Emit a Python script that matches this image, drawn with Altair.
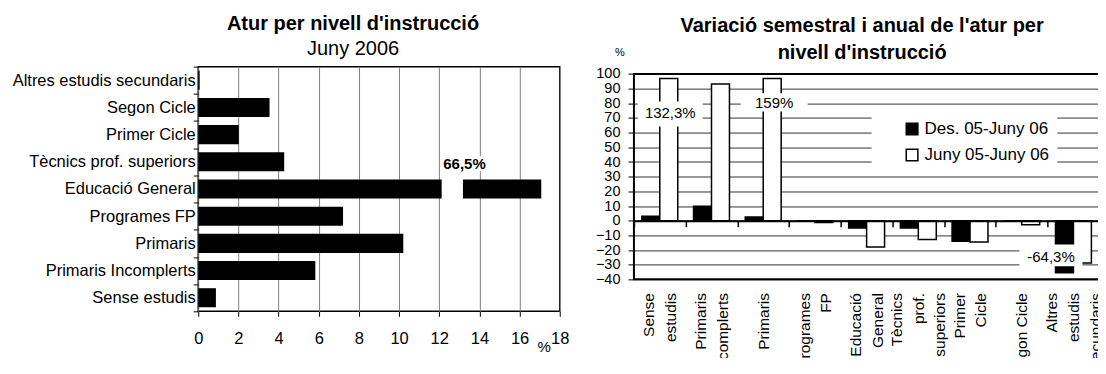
import altair as alt
import pandas as pd

# ---------------- left chart data ----------------
left_categories = ["Altres estudis secundaris", "Segon Cicle", "Primer Cicle",
                   "Tècnics prof. superiors", "Educació General", "Programes FP",
                   "Primaris", "Primaris Incomplerts", "Sense estudis"]
left_values = [0.07, 3.55, 2.02, 4.28, 17.08, 7.21, 10.21, 5.83, 0.88]
left_ticks = [0, 2, 4, 6, 8, 10, 12, 14, 16, 18]
left_break_category = ["Educació General"]
left_break_start = [12.12]
left_break_end = [13.18]
left_note_text = ["66,5%"]
left_note_category = ["Tècnics prof. superiors"]
left_note_start = [12.15]
left_note_end = [14.6]

# ---------------- right chart data ----------------
right_categories = ["Sense|estudis", "Primaris|Incomplerts", "Primaris", "Programes|FP",
                    "Educació|General", "Tècnics|prof.|superiors", "Primer|Cicle",
                    "Segon Cicle", "Altres|estudis|secundaris"]
series_names = ["Des. 05-Juny 06", "Juny 05-Juny 06"]
des_values = [3.0, 9.8, 2.5, 0.0, -5.0, -5.0, -14.0, 0.0, -35.5]
juny_values = [97.0, 93.2, 97.0, -1.3, -18.0, -12.9, -14.5, -2.7, -28.8]
right_ticks = [-40, -30, -20, -10, 0, 10, 20, 30, 40, 50, 60, 70, 80, 90, 100]
right_frame = [100, -40]
note_texts = ["132,3%", "159%", "-64,3%"]
note_categories = ["Sense|estudis", "Primaris", "Altres|estudis|secundaris"]
note_text_y = [73.2, 80.0, -24.7]
note_box_low = [64.2, 74.4, -31.0]
note_box_high = [81.2, 86.8, -16.3]

FONT = "Liberation Sans"

# ================= LEFT =================
df_l = pd.DataFrame({"cat": left_categories, "value": left_values})
y_l = alt.Scale(domain=left_categories, paddingInner=0, paddingOuter=0)
x_l = alt.Scale(domain=[0, 18], nice=False)
ax_x_l = alt.Axis(
    values=left_ticks, grid=True, gridColor="#808080", gridWidth=1,
    domain=False, tickSize=5, tickColor="black", tickWidth=1,
    labelFontSize=16.5, labelPadding=14.4, labelColor="black",
    labelFlush=False, labelOverlap=False,
    title="%", titleX=346, titleY=35, titleAlign="center",
    titleBaseline="middle", titleFontSize=15, titleFontWeight="normal",
    titleColor="black")
ax_y_l = alt.Axis(
    title=None, tickBand="extent", tickSize=5, tickColor="black",
    domain=False, labelFontSize=16.5, labelPadding=-2,
    labelColor="black", labelLimit=0)

bars_l = alt.Chart(df_l).mark_bar(color="black", height={"band": 0.7}).encode(
    x=alt.X("value:Q", scale=x_l, axis=ax_x_l),
    y=alt.Y("cat:N", scale=y_l, sort=left_categories, axis=ax_y_l),
)

df_gap = pd.DataFrame({"cat": left_break_category, "x1": left_break_start,
                       "x2": left_break_end})
gap_l = alt.Chart(df_gap).mark_bar(color="white", height={"band": 0.8}).encode(
    x=alt.X("x1:Q", scale=x_l, axis=ax_x_l), x2="x2:Q",
    y=alt.Y("cat:N", scale=y_l, sort=left_categories, axis=ax_y_l))

df_note_l = pd.DataFrame({"cat": left_note_category, "x1": left_note_start,
                          "x2": left_note_end, "t": left_note_text})
note_box_l = alt.Chart(df_note_l).mark_bar(
    color="white", height={"band": 0.55}, yOffset=2).encode(
    x=alt.X("x1:Q", scale=x_l, axis=ax_x_l), x2="x2:Q",
    y=alt.Y("cat:N", scale=y_l, sort=left_categories, axis=ax_y_l))
note_txt_l = alt.Chart(df_note_l).mark_text(
    align="left", baseline="middle", fontWeight="bold", fontSize=15,
    dx=1, dy=2, color="black").encode(
    x=alt.X("x1:Q", scale=x_l, axis=ax_x_l),
    y=alt.Y("cat:N", scale=y_l, sort=left_categories, axis=ax_y_l), text="t:N")

left = alt.layer(bars_l, gap_l, note_box_l, note_txt_l).properties(
    width=362, height=245,
    view=alt.ViewBackground(stroke="black", strokeWidth=1.5),
    title=alt.TitleParams(
        text="Atur per nivell d'instrucció", subtitle="Juny 2006",
        fontSize=20, fontWeight="bold", color="black",
        subtitleFontSize=20, subtitleFontWeight="normal", subtitleColor="black",
        subtitlePadding=5, anchor="middle", dx=-26, offset=0),
)

# ================= RIGHT =================
df_r = pd.DataFrame({
    "cat": right_categories * 2,
    "series": [series_names[0]] * len(right_categories) + [series_names[1]] * len(right_categories),
    "value": des_values + juny_values,
})
x_r = alt.Scale(domain=right_categories, paddingInner=0, paddingOuter=0)
y_r = alt.Scale(domain=[-40, 105], nice=False)
ax_x_r = alt.Axis(
    title=None, orient="bottom", offset=-58.8, grid=False,
    domain=True, domainColor="black", domainWidth=2,
    ticks=True, tickBand="extent", tickSize=6, tickColor="black", tickWidth=1.5,
    labelAngle=270, labelAlign="right", labelBaseline="middle",
    labelPadding=66, labelExpr="split(datum.label, '|')",
    labelOffset={"condition": [
        {"test": "length(split(datum.value, '|')) >= 3", "value": -21.7},
        {"test": "length(split(datum.value, '|')) == 2", "value": -10.85}],
        "value": 0},
    labelFontSize=15.5, labelLineHeight=21.7, labelColor="black",
    labelOverlap=False, labelLimit=0, zindex=1)
ax_y_r = alt.Axis(
    values=right_ticks, grid=True, gridColor="#333333", gridWidth=1,
    domain=False, tickSize=6, tickColor="black", tickWidth=1,
    labelFontSize=14.5, labelPadding=8, labelColor="black",
    labelOverlap=False, labelFlush=False,
    title="%", titleAngle=0, titleX=-14.6, titleY=-13.9, titleAlign="center",
    titleBaseline="middle", titleFontSize=11, titleFontWeight="normal",
    titleColor="black")

bars_r = alt.Chart(df_r).mark_bar(stroke="black", strokeWidth=1.5).encode(
    x=alt.X("cat:N", scale=x_r, sort=right_categories, axis=ax_x_r),
    xOffset=alt.XOffset("series:N", sort=series_names,
                        scale=alt.Scale(domain=series_names, paddingInner=0, paddingOuter=0.44)),
    y=alt.Y("value:Q", scale=y_r, axis=ax_y_r),
    fill=alt.Fill("series:N", sort=series_names,
                  scale=alt.Scale(domain=series_names, range=["black", "white"]),
                  legend=alt.Legend(
                      title=None, orient="none", direction="vertical",
                      legendX=238, legendY=46, fillColor="white", padding=8,
                      symbolType="square", symbolSize=135,
                      symbolStrokeColor="black", symbolStrokeWidth=1.5,
                      symbolOffset=24, labelFontSize=17, labelOffset=4,
                      rowPadding=7, labelColor="black", labelLimit=0)),
)

note_widths = [65, 67, 63]
note_dx = [10.5, 11, -22.5]
note_layers = []
for t, c, ty, lo, hi, w, dx in zip(note_texts, note_categories, note_text_y,
                                     note_box_low, note_box_high, note_widths, note_dx):
    d = pd.DataFrame({"cat": [c], "value": [lo], "hi": [hi], "ty": [ty], "t": [t]})
    note_layers.append(alt.Chart(d).mark_bar(color="white", width=w, xOffset=dx).encode(
        x=alt.X("cat:N", scale=x_r, sort=right_categories, axis=ax_x_r),
        y=alt.Y("value:Q", scale=y_r, axis=ax_y_r), y2="hi:Q"))
    note_layers.append(alt.Chart(d).mark_text(
        fontSize=15, dx=dx, color="black", baseline="middle").encode(
        x=alt.X("cat:N", scale=x_r, sort=right_categories, axis=ax_x_r),
        y=alt.Y("ty:Q", scale=y_r, axis=ax_y_r), text="t:N"))

df_frame = pd.DataFrame({"top": [right_frame[0]], "bottom": [right_frame[1]]})
frame_r = alt.Chart(df_frame).mark_rect(
    filled=False, color="black", strokeWidth=2).encode(
    x=alt.value(0), x2=alt.value("width"),
    y=alt.Y("top:Q", scale=y_r, axis=ax_y_r), y2="bottom:Q")

right = alt.layer(bars_r, *note_layers, frame_r).properties(
    width=466, height=213,
    view=alt.ViewBackground(strokeWidth=0),
    title=alt.TitleParams(
        text=["Variació semestral i anual de l'atur per", "nivell d'instrucció"],
        fontSize=20, fontWeight="bold", color="black", lineHeight=26.7,
        anchor="middle", dx=-4.5, offset=-16),
)

chart = alt.concat(left, right, columns=2, spacing=25.3, align="none").resolve_legend(
    fill="independent"
).properties(
    padding={"left": 2.5, "top": 4.5, "right": -6, "bottom": -19},
).configure(font=FONT)

chart.save("out.html", embed_options={"renderer": "svg", "actions": False})
